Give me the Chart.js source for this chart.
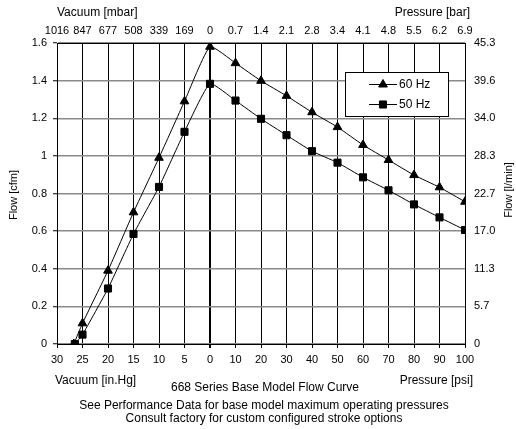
<!DOCTYPE html>
<html>
<head>
<meta charset="utf-8">
<script src="https://cdn.jsdelivr.net/npm/chart.js@4/dist/chart.umd.min.js"></script>
<style>
  html, body { margin: 0; padding: 0; background: #fff; }
  #flowChart { display: block; }
</style>
</head>
<body>
<canvas id="flowChart" width="516" height="429"></canvas>
<script>
// axis labels
var bottomLabels = ['30', '25', '20', '15', '10', '5', '0', '10', '20', '30', '40', '50', '60', '70', '80', '90', '100'];
var topLabels = ['1016', '847', '677', '508', '339', '169', '0', '0.7', '1.4', '2.1', '2.8', '3.4', '4.1', '4.8', '5.5', '6.2', '6.9'];
var leftLabels = ['0', '0.2', '0.4', '0.6', '0.8', '1', '1.2', '1.4', '1.6'];
var rightLabels = ['0', '5.7', '11.3', '17.0', '22.7', '28.3', '34.0', '39.6', '45.3'];

// measured points: vacuum side (in.Hg) and pressure side (psi)
var vacuum60 = [26.7, 25, 20, 15, 10, 5, 0];
var flowVac60 = [0, 0.11, 0.39, 0.70, 0.99, 1.29, 1.58];
var vacuum50 = [26.5, 25, 20, 15, 10, 5, 0];
var flowVac50 = [0, 0.05, 0.295, 0.585, 0.835, 1.128, 1.383];
var pressure = [10, 20, 30, 40, 50, 60, 70, 80, 90, 100];
var flowPres60 = [1.493, 1.399, 1.319, 1.232, 1.153, 1.058, 0.978, 0.898, 0.833, 0.756];
var flowPres50 = [1.294, 1.197, 1.110, 1.025, 0.964, 0.886, 0.817, 0.742, 0.673, 0.606];

// the x axis is 30..0 in.Hg then 0..100 psi, equally spaced
function vacPos(v) { return (30 - v) / 5; }
function presPos(p) { return 6 + p / 10; }

function buildPoints(vac, flowVac, pres, flowPres) {
  var pts = [];
  vac.forEach(function (v, i) { pts.push({ x: vacPos(v), y: flowVac[i] }); });
  pres.forEach(function (p, i) { pts.push({ x: presPos(p), y: flowPres[i] }); });
  return pts;
}

var FONT = '"Liberation Sans", Arial, sans-serif';
Chart.defaults.font.family = FONT;
Chart.defaults.color = '#000';

var textPlugin = {
  id: 'texts',
  afterDraw: function (chart) {
    var ctx = chart.ctx;
    ctx.save();
    ctx.fillStyle = '#000';
    ctx.font = '12px ' + FONT;
    ctx.textBaseline = 'middle';
    ctx.textAlign = 'left';
    ctx.fillText('Vacuum [mbar]', 57, 13);
    ctx.fillText('Vacuum [in.Hg]', 55, 381);
    ctx.textAlign = 'right';
    ctx.fillText('Pressure [bar]', 470, 13);
    ctx.fillText('Pressure [psi]', 473, 381);
    ctx.textAlign = 'center';
    ctx.fillText('668 Series Base Model Flow Curve', 265, 388);
    ctx.fillText('See Performance Data for base model maximum operating pressures', 264, 406);
    ctx.fillText('Consult factory for custom configured stroke options', 264, 419);

    ctx.font = '11px ' + FONT;
    ctx.save();
    ctx.translate(14, 195);
    ctx.rotate(-Math.PI / 2);
    ctx.fillText('Flow [cfm]', 0, 0);
    ctx.restore();
    ctx.save();
    ctx.translate(509, 190);
    ctx.rotate(-Math.PI / 2);
    ctx.fillText('Flow [l/min]', 0, 0);
    ctx.restore();

    // legend box
    var bx = 345.5, by = 72.5, bw = 103, bh = 44;
    ctx.fillStyle = '#fff';
    ctx.fillRect(bx, by, bw, bh);
    ctx.strokeStyle = '#000';
    ctx.lineWidth = 1;
    ctx.strokeRect(bx, by, bw, bh);
    chart.data.datasets.forEach(function (ds, i) {
      var ly = 84.5 + i * 20;
      ctx.beginPath();
      ctx.moveTo(369, ly);
      ctx.lineTo(397, ly);
      ctx.strokeStyle = '#000';
      ctx.lineWidth = 1;
      ctx.stroke();
      ctx.fillStyle = '#000';
      Chart.helpers.drawPoint(ctx, { pointStyle: ds.pointStyle, radius: ds.pointRadius, borderWidth: 1 }, 383, ly);
      ctx.font = '12px ' + FONT;
      ctx.textAlign = 'left';
      ctx.textBaseline = 'middle';
      ctx.fillStyle = '#000';
      ctx.fillText(ds.label, 399, ly);
    });
    ctx.restore();
  }
};

new Chart('flowChart', {
  type: 'line',
  data: {
    datasets: [{
      label: '60 Hz',
      data: buildPoints(vacuum60, flowVac60, pressure, flowPres60),
      borderColor: '#000',
      backgroundColor: '#000',
      borderWidth: 1,
      pointStyle: 'triangle',
      pointRadius: 5,
      tension: 0.15
    }, {
      label: '50 Hz',
      data: buildPoints(vacuum50, flowVac50, pressure, flowPres50),
      borderColor: '#000',
      backgroundColor: '#000',
      borderWidth: 1,
      pointStyle: 'rect',
      pointRadius: 5,
      tension: 0.15
    }]
  },
  options: {
    responsive: false,
    animation: false,
    layout: { padding: 0 },
    plugins: {
      legend: { display: false },
      tooltip: { enabled: false }
    },
    scales: {
      x: {
        type: 'linear',
        position: 'bottom',
        min: 0,
        max: 16,
        afterFit: function (s) { s.height = 85; },
        ticks: {
          stepSize: 1,
          autoSkip: false,
          maxRotation: 0,
          padding: 5,
          font: { size: 11 },
          callback: function (v) { return bottomLabels[v]; }
        },
        grid: {
          color: '#000',
          lineWidth: function (c) { return c.tick && c.tick.value === 6 ? 2 : 1; },
          tickLength: 4,
          tickColor: '#000'
        },
        border: { color: '#000', width: 1 }
      },
      x2: {
        type: 'linear',
        position: 'top',
        min: 0,
        max: 16,
        afterFit: function (s) { s.height = 43; },
        ticks: {
          stepSize: 1,
          autoSkip: false,
          maxRotation: 0,
          padding: 5,
          font: { size: 11 },
          callback: function (v) { return topLabels[v]; }
        },
        grid: { drawOnChartArea: false, drawTicks: false, tickLength: 0 },
        border: { color: '#000', width: 1 }
      },
      y: {
        position: 'left',
        min: 0,
        max: 1.6,
        afterFit: function (s) { s.width = 57; },
        ticks: {
          stepSize: 0.2,
          padding: 6,
          font: { size: 11 },
          callback: function (v) { return leftLabels[Math.round(v / 0.2)]; }
        },
        grid: {
          color: '#8a8a8a',
          lineWidth: 1.5,
          tickLength: 4,
          tickColor: '#000',
          tickWidth: 1
        },
        border: { color: '#000', width: 1 }
      },
      y2: {
        position: 'right',
        min: 0,
        max: 1.6,
        afterFit: function (s) { s.width = 51; },
        ticks: {
          stepSize: 0.2,
          padding: 9,
          font: { size: 11 },
          callback: function (v) { return rightLabels[Math.round(v / 0.2)]; }
        },
        grid: { drawOnChartArea: false, drawTicks: false, tickLength: 0 },
        border: { color: '#000', width: 1 }
      }
    }
  },
  plugins: [textPlugin]
});
</script>
</body>
</html>
